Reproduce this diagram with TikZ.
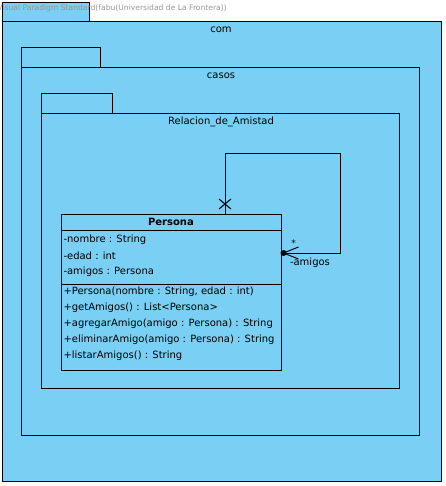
\documentclass[tikz,border=0pt]{standalone}
\usepackage{fontspec}
\setmainfont{DejaVu Sans}
\usetikzlibrary{positioning, calc}
\definecolor{vpblue}{RGB}{122, 207, 245}
\definecolor{vpgrey}{RGB}{150, 150, 150}

\begin{document}
\begin{tikzpicture}[x=1pt, y=-1pt, line width=1pt,
        pkg/.style={draw, fill=vpblue},
        pkglabel/.style={font=\fontsize{10}{12}\selectfont, inner sep=0pt},
        classbox/.style={draw, fill=vpblue, minimum width=220pt, inner sep=0pt, outer sep=0pt},
        member/.style={anchor=west, font=\fontsize{10}{12}\selectfont, inner sep=0pt}]
        \useasboundingbox (0,0) rectangle (445,486);

        % packages
        \draw [pkg] (2,3) rectangle (89,22);
        \draw [pkg] (2,22) rectangle (441,481);
        \node [pkglabel] (com) at (221,30) { com };
        \draw [pkg] (21,48) rectangle (100,68);
        \draw [pkg] (21,68) rectangle (419,435);
        \node [pkglabel] (casos) at (221,76) { casos };
        \draw [pkg] (41,94) rectangle (112,114);
        \draw [pkg] (41,114) rectangle (399,388);
        \node [pkglabel] (rel) at (221,122) { Relacion\_de\_Amistad };

        % class Persona
        \node [classbox, minimum height=16pt, anchor=north west, font=\fontsize{10}{12}\selectfont\bfseries] (Pname) at (61,214) { Persona };
        \node [classbox, minimum height=54pt, below=0pt of Pname] (Pattr) {};
        \node [classbox, minimum height=86pt, below=0pt of Pattr] (Pops) {};
        \node [member] (a1) at ($(Pattr.north west)+(2,10)$) { -nombre : String };
        \node [member] (a2) at ($(a1.west)+(0,16)$) { -edad : int };
        \node [member] (a3) at ($(a2.west)+(0,16)$) { -amigos : Persona };
        \node [member] (o1) at ($(Pops.north west)+(2,8)$) { +Persona(nombre : String, edad : int) };
        \node [member] (o2) at ($(o1.west)+(0,16)$) { +getAmigos() : List<Persona> };
        \node [member] (o3) at ($(o2.west)+(0,16)$) { +agregarAmigo(amigo : Persona) : String };
        \node [member] (o4) at ($(o3.west)+(0,16)$) { +eliminarAmigo(amigo : Persona) : String };
        \node [member] (o5) at ($(o4.west)+(0,16)$) { +listarAmigos() : String };

        % self association
        \coordinate (s1) at (225,154);
        \coordinate (s2) at (340,154);
        \coordinate (s3) at (340,253);
        \coordinate (end) at ($(s3 -| Pattr.east)+(2.5,0)$);
        \draw (Pname.north -| s1) -- (s1) -- (s2) -- (s3) -- (end);
        \fill (end) circle (3pt);
        \draw ($(end)+(15,-6)$) -- (end) -- ($(end)+(15,6)$);
        \draw ($(Pname.north -| s1)+(-6,-15)$) -- ++(12,10);
        \draw ($(Pname.north -| s1)+(6,-15)$) -- ++(-12,10);
        \node [pkglabel, font=\fontsize{9}{10}\selectfont] (mult) at ($(end)+(10,-10)$) { * };
        \node [pkglabel, anchor=west] (role) at ($(end)+(6,10)$) { -amigos };

        % watermark
        \node [anchor=west, inner sep=0pt, text=vpgrey, font=\fontsize{7.6}{8}\selectfont] (wm) at (-3,8) { Visual Paradigm Standard(fabu(Universidad de La Frontera)) };
\end{tikzpicture}
\end{document}
